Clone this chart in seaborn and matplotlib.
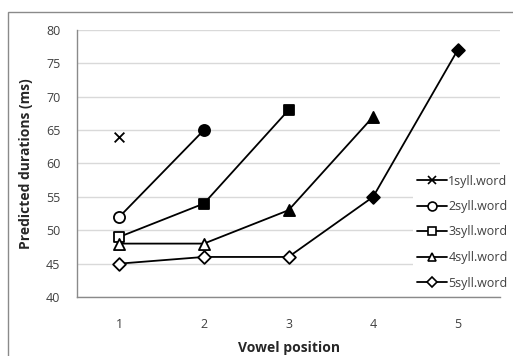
import matplotlib
matplotlib.use("Agg")
import matplotlib.pyplot as plt
import seaborn as sns
import pandas as pd
from matplotlib.lines import Line2D
from matplotlib.patches import Rectangle

series_names = ["1syll.word", "2syll.word", "3syll.word", "4syll.word", "5syll.word"]
positions = [
    [1],
    [1, 2],
    [1, 2, 3],
    [1, 2, 3, 4],
    [1, 2, 3, 4, 5],
]
durations = [
    [64],
    [52, 65],
    [49, 54, 68],
    [48, 48, 53, 67],
    [45, 46, 46, 55, 77],
]
filled = [
    [True],
    [False, True],
    [False, True, True],
    [False, False, True, True],
    [False, False, False, True, True],
]
markers = ["x", "o", "s", "^", "D"]
msizes = [7, 8, 7, 8, 6.5]
x_ticks = [1, 2, 3, 4, 5]
y_ticks = [40, 45, 50, 55, 60, 65, 70, 75, 80]

rows = []
for name, xs, ys, fs in zip(series_names, positions, durations, filled):
    for x, y, f in zip(xs, ys, fs):
        rows.append({"series": name, "pos": x, "dur": y, "filled": f})
df = pd.DataFrame(rows)

sns.set_style("white")
plt.rcParams["font.family"] = ["Open Sans", "DejaVu Sans"]

fig = plt.figure(figsize=(5.13, 3.56), dpi=100)
fig.patches.append(Rectangle((8 / 513, -0.1), 1.2, (356 - 12) / 356 + 0.1,
                             transform=fig.transFigure, fill=False,
                             edgecolor="#8a8a8a", linewidth=1.0, zorder=0))
ax = fig.add_axes([77 / 513, 59 / 356, 423 / 513, 267 / 356])

for name, mk, ms in zip(series_names, markers, msizes):
    sub = df[df["series"] == name]
    if len(sub) > 1:
        sns.lineplot(data=sub, x="pos", y="dur", ax=ax, color="black",
                     linewidth=1.3, legend=False, zorder=3)
    for _, r in sub.iterrows():
        face = "black" if r["filled"] else "white"
        if mk == "x":
            face = "black"
        sns.scatterplot(x=[r["pos"]], y=[r["dur"]], ax=ax, marker=mk,
                        s=ms ** 2, color=face, edgecolor="black",
                        linewidth=1.3, zorder=4, legend=False)

ax.set_xlim(0.5, 5.5)
ax.set_ylim(40, 80)
ax.set_xticks(x_ticks)
ax.set_yticks(y_ticks)
ax.set_xticklabels([str(v) for v in x_ticks])
ax.tick_params(axis="both", length=0, labelsize=9, colors="#404040")
ax.tick_params(axis="y", pad=12)
ax.tick_params(axis="x", pad=15)
ax.yaxis.grid(True, color="#d9d9d9", linewidth=1.0)
ax.set_axisbelow(True)
for s in ["top", "right"]:
    ax.spines[s].set_visible(False)
for s in ["left", "bottom"]:
    ax.spines[s].set_color("#8a8a8a")
    ax.spines[s].set_linewidth(1.0)

ax.set_xlabel("Vowel position", fontsize=10, fontweight="bold", labelpad=7)
ax.set_ylabel("Predicted durations (ms)", fontsize=10, fontweight="bold", labelpad=9)

handles = [Line2D([0], [0], color="black", linewidth=1.3, marker=mk,
                  markersize=ms * 0.8, markerfacecolor="white",
                  markeredgecolor="black", markeredgewidth=1.2)
           for mk, ms in zip(markers, msizes)]
leg = ax.legend(handles, series_names, loc="center left",
                bbox_to_anchor=(413 / 513, (356 - 232) / 356), bbox_transform=fig.transFigure,
                frameon=True, fontsize=9, handlelength=2.4, handletextpad=0.12,
                labelspacing=1.0, borderpad=0.3, borderaxespad=0)
leg.get_frame().set_facecolor("white")
leg.get_frame().set_edgecolor("none")
leg.get_frame().set_alpha(1)
for t in leg.get_texts():
    t.set_color("#404040")

fig.savefig("out.png", dpi=100)
